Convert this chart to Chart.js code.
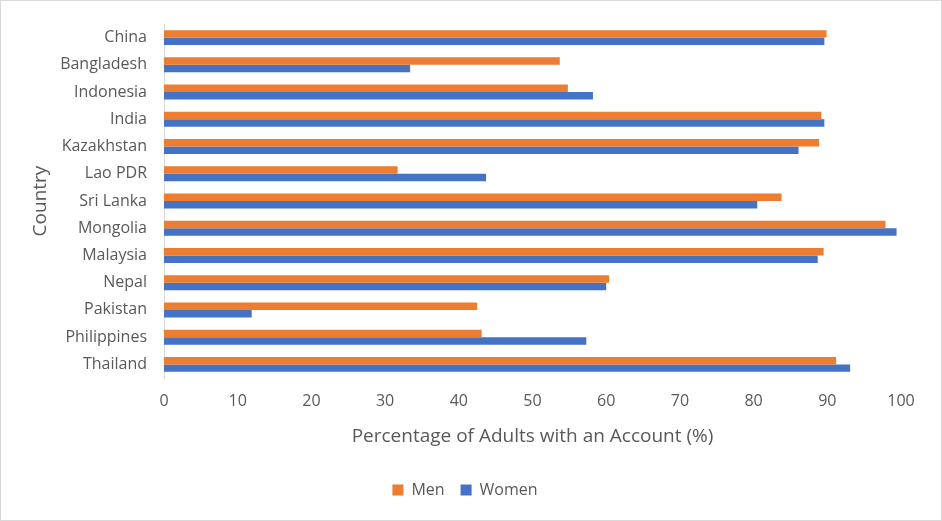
<!DOCTYPE html>
<html>
<head>
<meta charset="utf-8">
<script src="https://cdn.jsdelivr.net/npm/chart.js@4"></script>
<style>
    html, body { margin: 0; padding: 0; background: #fff; }
    #wrap { width: 940px; height: 519px; border: 1px solid #d9d9d9; }
</style>
</head>
<body>
<div id="wrap"><canvas id="chart" width="940" height="519"></canvas></div>
<script>
const countries = ["China", "Bangladesh", "Indonesia", "India", "Kazakhstan", "Lao PDR", "Sri Lanka",
    "Mongolia", "Malaysia", "Nepal", "Pakistan", "Philippines", "Thailand"];
const men = [89.9, 53.7, 54.8, 89.2, 88.9, 31.7, 83.8, 97.9, 89.5, 60.4, 42.5, 43.1, 91.2];
const women = [89.6, 33.4, 58.2, 89.6, 86.1, 43.7, 80.5, 99.4, 88.7, 60.0, 11.9, 57.3, 93.1];
const xTicks = [0, 10, 20, 30, 40, 50, 60, 70, 80, 90, 100];

const font = "'Open Sans', 'Noto Sans', sans-serif";
Chart.defaults.font.family = font;
Chart.defaults.color = "#595959";

const ctx = document.getElementById("chart").getContext("2d");

new Chart(ctx, {
    type: "bar",
    data: {
        labels: countries,
        datasets: [
            { label: "Men", data: men, backgroundColor: "#ED7D31" },
            { label: "Women", data: women, backgroundColor: "#4472C4" }
        ]
    },
    options: {
        indexAxis: "y",
        responsive: false,
        animation: false,
        layout: { padding: { top: 23, left: 28, right: 40, bottom: 12 } },
        datasets: {
            bar: { categoryPercentage: 0.55, barPercentage: 1.0 }
        },
        plugins: {
            legend: {
                position: "bottom",
                labels: {
                    boxWidth: 11,
                    boxHeight: 11,
                    padding: 16,
                    font: { size: 16 },
                    color: "#595959"
                }
            },
            tooltip: { enabled: false }
        },
        scales: {
            x: {
                min: 0,
                max: 100,
                afterBuildTicks: axis => {
                    axis.ticks = xTicks.map(v => ({ value: v }));
                },
                grid: { display: false, drawTicks: false },
                border: { display: false },
                ticks: { font: { size: 16 }, color: "#595959", padding: 14 },
                title: {
                    display: true,
                    text: "Percentage of Adults with an Account (%)",
                    font: { size: 19 },
                    color: "#595959",
                    padding: { top: 0, bottom: 18 }
                }
            },
            y: {
                afterFit: axis => {
                    axis.width = 135;
                    axis.paddingTop = 0;
                    axis.paddingBottom = 0;
                },
                grid: { display: false, drawTicks: false },
                border: { display: true, color: "#d9d9d9", width: 1 },
                ticks: { font: { size: 16 }, color: "#595959", padding: 17 },
                title: {
                    display: true,
                    text: "Country",
                    font: { size: 19 },
                    color: "#595959",
                    padding: { top: 0, bottom: 4 }
                }
            }
        }
    }
});
</script>
</body>
</html>
